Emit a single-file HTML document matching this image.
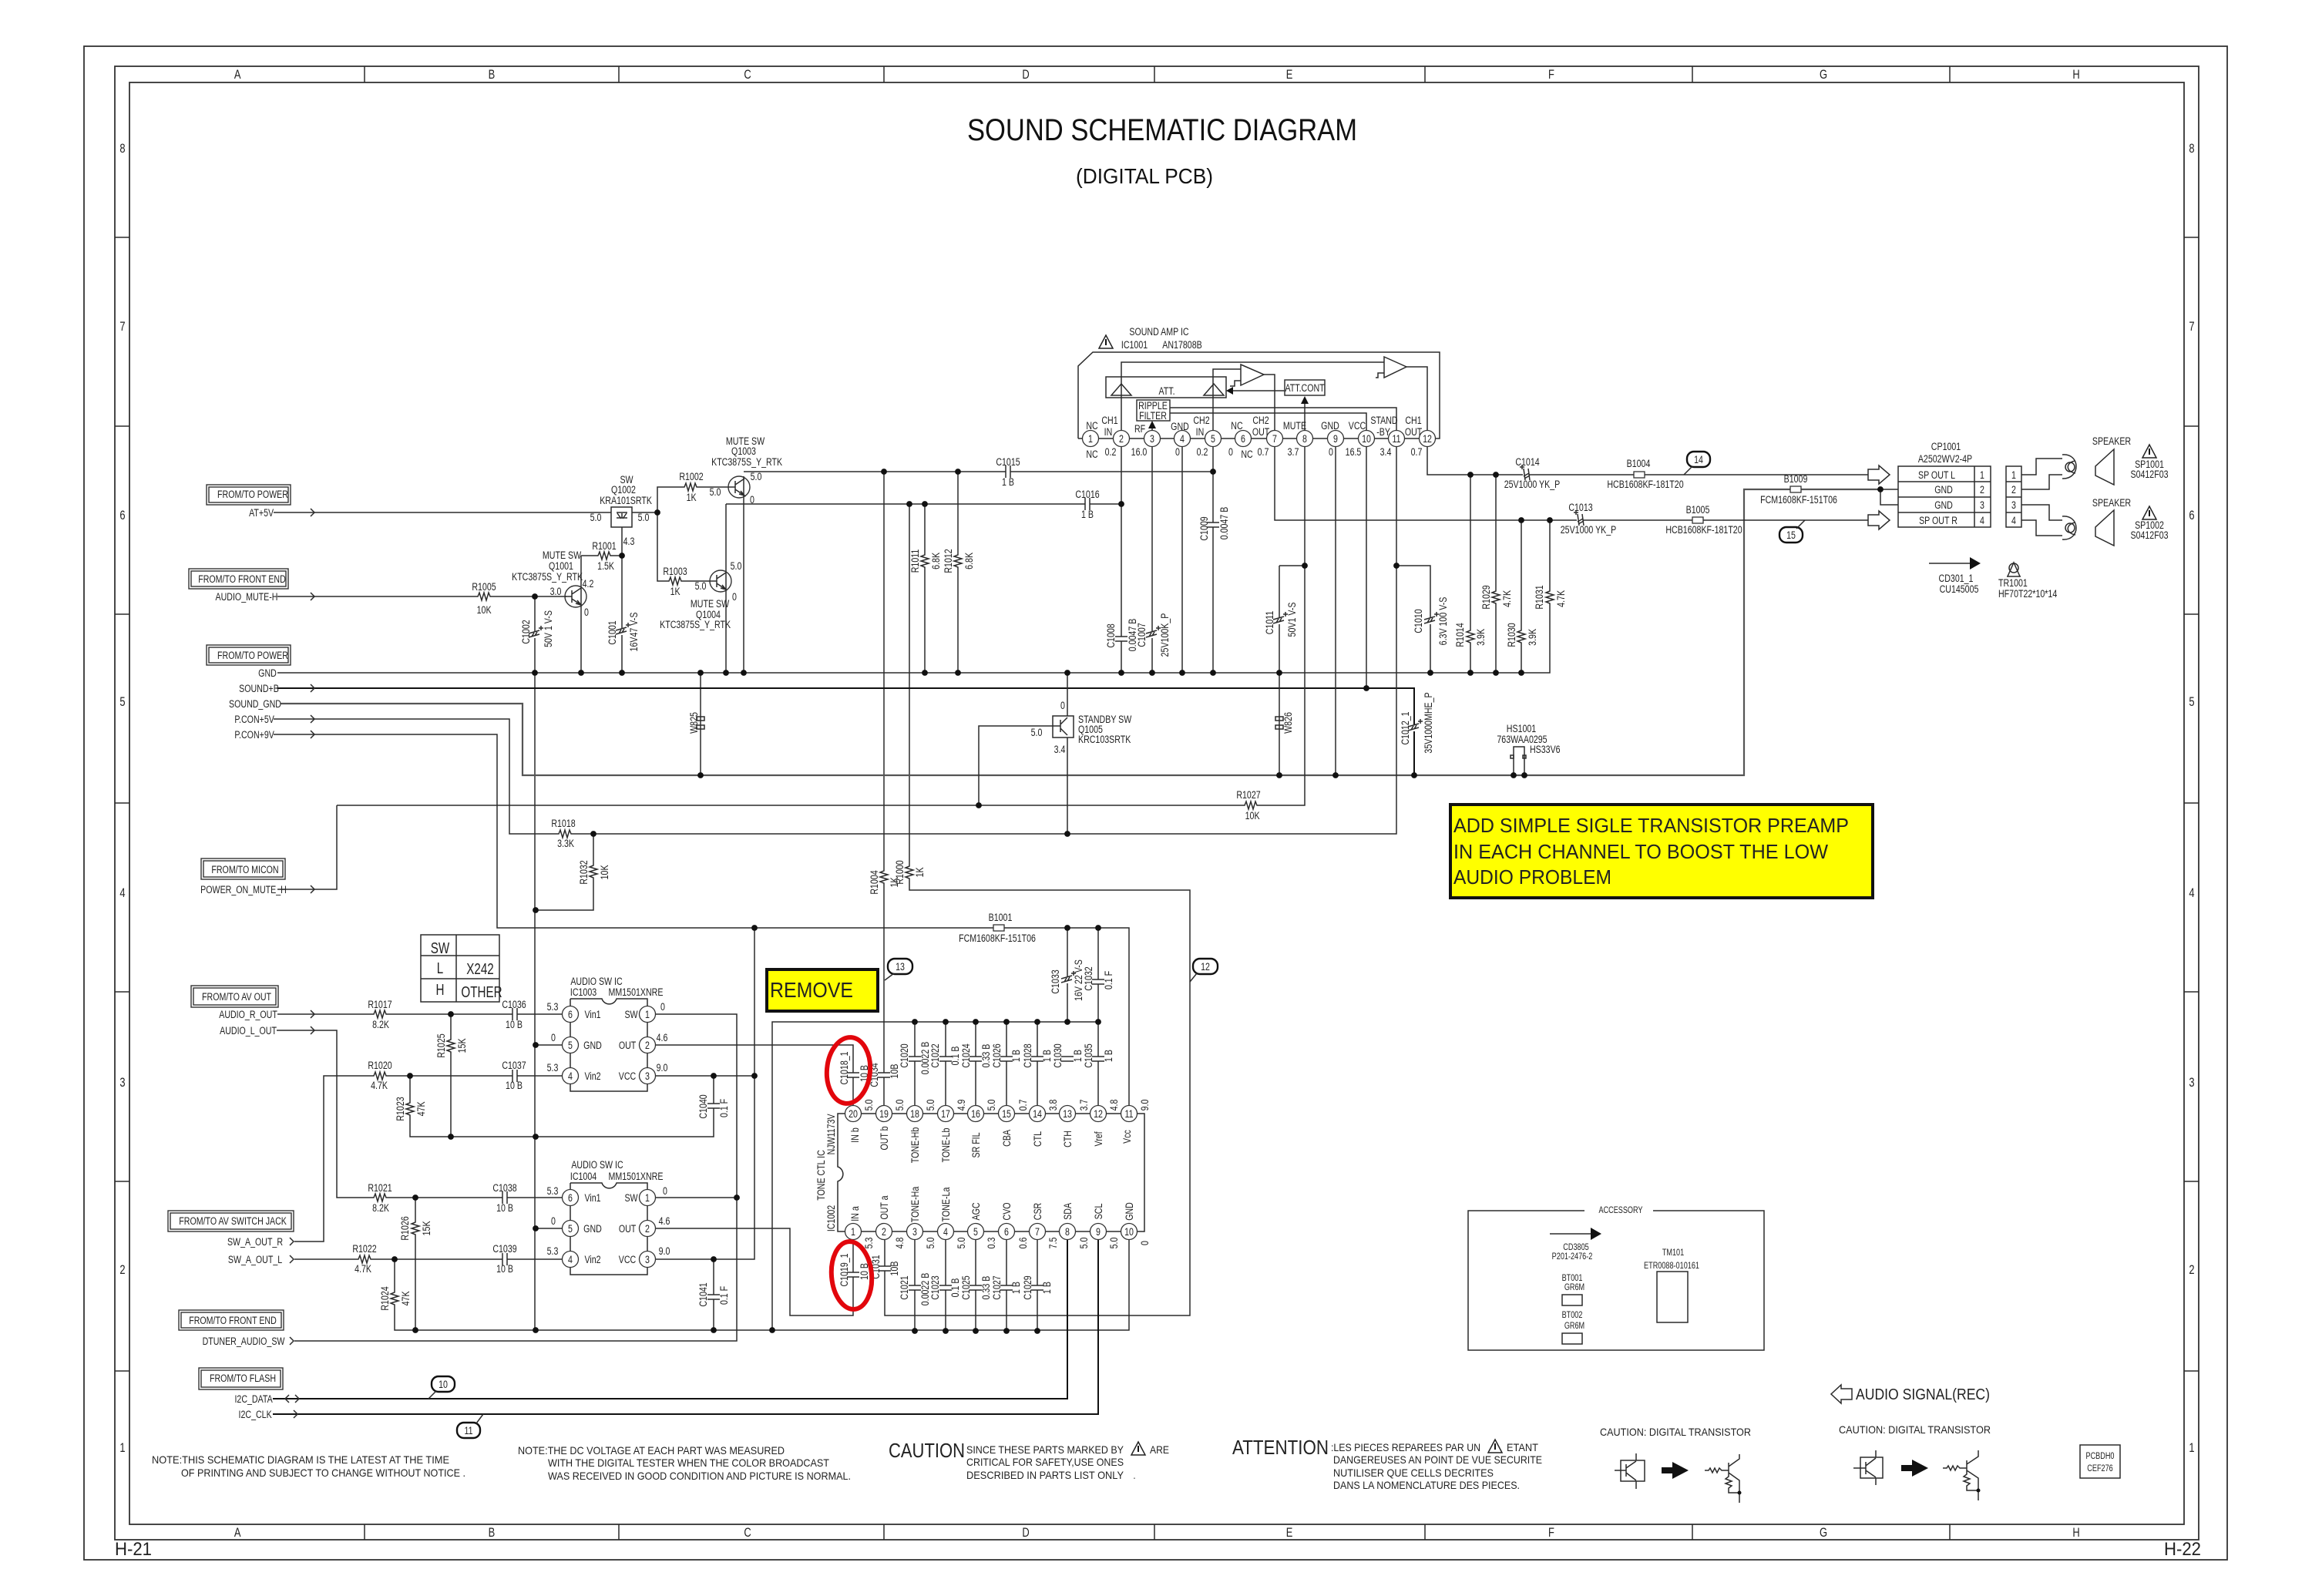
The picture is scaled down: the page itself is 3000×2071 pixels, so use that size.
<!DOCTYPE html>
<html><head><meta charset="utf-8"><title>Sound Schematic Diagram</title>
<style>
html,body{margin:0;padding:0;background:#fff}
svg{display:block}
text{font-family:"Liberation Sans",sans-serif;font-size:14px;fill:#222;text-anchor:middle;transform-box:fill-box;transform-origin:center;transform:scaleX(.76)}
text.l{text-anchor:start;transform-origin:left center}
text.n{text-anchor:start;transform:none}
text.s{font-size:12px}
text.f{font-size:17px}
text.t{font-size:20px}
.w{fill:none;stroke:#2b2b2b;stroke-width:1.5}
.g{fill:none;stroke:#555;stroke-width:2.2}
.k{fill:none;stroke:#111;stroke-width:2}
.fr{fill:none;stroke:#333;stroke-width:1.8}
.pin{fill:#fff;stroke:#333;stroke-width:1.3}
.tag{fill:#fff;stroke:#111;stroke-width:2.4}
</style></head><body>
<svg xmlns="http://www.w3.org/2000/svg" width="3000" height="2071" viewBox="0 0 3000 2071">
<defs>
<g id="d"><circle r="3.9" fill="#111"/></g>
<g id="rh"><rect x="-11" y="-5" width="22" height="10" fill="#fff"/><path class="w" d="M-11 0H-8l2-5 3 10 3-10 3 10 3-10 2 5H11"/></g>
<g id="rv"><rect x="-5" y="-11" width="10" height="22" fill="#fff"/><path class="w" d="M0-11V-8l-5 2 10 3-10 3 10 3-10 3 5 2V11"/></g>
<g id="ch"><rect x="-3" y="-8" width="6" height="16" fill="#fff"/><path class="w" d="M-3-8V8M3-8V8"/></g>
<g id="cv"><rect x="-8" y="-3" width="16" height="6" fill="#fff"/><path class="w" d="M-8-3H8M-8 3H8"/></g>
<g id="ev"><rect x="-8" y="-4" width="16" height="8" fill="#fff"/><path class="w" d="M-8-2L6-6M-8 3L6-1M-4 2L-1-3M0 1L3-4M8-12V-6M5-9H11"/></g>
<g id="eh"><rect x="-4" y="-8" width="8" height="16" fill="#fff"/><path class="w" d="M-3-8L-1 7M3-8L5 7M-3 2L4-2M-2 5L5 1M-8-10H-2M-5-13V-7"/></g>
<g id="q"><circle r="14" fill="none" stroke="#333" stroke-width="1.4"/><path class="w" d="M-14 0H-5M-5-8V8M-5-3L7-11M-5 3L7 11M2 5L7 11L0 9"/></g>
<g id="ar"><path class="w" d="M-5-5L4 0L-5 5M-8 0H4"/></g>
<g id="p"><circle r="10.5" class="pin"/></g>
<g id="wt"><path fill="#fff" stroke="#222" stroke-width="1.5" d="M0-9L9 8H-9Z"/><path stroke="#111" stroke-width="2" d="M0-4V4"/></g>
<g id="fa"><path class="w" fill="#fff" d="M0-7H14V-12L28 0L14 12V7H0Z"/></g>
<g id="j"><path class="w" fill="#fff" d="M-5-8H5V-3H-5ZM-5 3H5V8H-5Z"/></g>
</defs>

<!-- frame -->
<rect x="109" y="60" width="2781" height="1964" class="fr"/>
<rect x="149" y="86" width="2704" height="1912" class="fr"/>
<rect x="168" y="107" width="2666" height="1871" class="fr"/>
<path class="w" d="M473 86V107M803 86V107M1147 86V107M1498 86V107M1849 86V107M2196 86V107M2530 86V107M473 1978V1998M803 1978V1998M1147 1978V1998M1498 1978V1998M1849 1978V1998M2196 1978V1998M2530 1978V1998M149 308H168M149 553H168M149 797H168M149 1042H168M149 1287H168M149 1533H168M149 1779H168M2834 308H2853M2834 553H2853M2834 797H2853M2834 1042H2853M2834 1287H2853M2834 1533H2853M2834 1779H2853"/>
<text class="f" x="308" y="102">A</text><text class="f" x="638" y="102">B</text><text class="f" x="970" y="102">C</text><text class="f" x="1331" y="102">D</text><text class="f" x="1673" y="102">E</text><text class="f" x="2013" y="102">F</text><text class="f" x="2366" y="102">G</text><text class="f" x="2694" y="102">H</text>
<text class="f" x="308" y="1994">A</text><text class="f" x="638" y="1994">B</text><text class="f" x="970" y="1994">C</text><text class="f" x="1331" y="1994">D</text><text class="f" x="1673" y="1994">E</text><text class="f" x="2013" y="1994">F</text><text class="f" x="2366" y="1994">G</text><text class="f" x="2694" y="1994">H</text>
<text class="f" x="159" y="198">8</text><text class="f" x="159" y="429">7</text><text class="f" x="159" y="674">6</text><text class="f" x="159" y="916">5</text><text class="f" x="159" y="1164">4</text><text class="f" x="159" y="1410">3</text><text class="f" x="159" y="1653">2</text><text class="f" x="159" y="1884">1</text>
<text class="f" x="2844" y="198">8</text><text class="f" x="2844" y="429">7</text><text class="f" x="2844" y="674">6</text><text class="f" x="2844" y="916">5</text><text class="f" x="2844" y="1164">4</text><text class="f" x="2844" y="1410">3</text><text class="f" x="2844" y="1653">2</text><text class="f" x="2844" y="1884">1</text>
<text class="n" x="149" y="2018" style="font-size:24px" textLength="48" lengthAdjust="spacingAndGlyphs">H-21</text>
<text class="n" x="2808" y="2018" style="font-size:24px" textLength="48" lengthAdjust="spacingAndGlyphs">H-22</text>

<!-- title -->
<text class="n" x="1255" y="182" style="font-size:40px;fill:#111" textLength="506" lengthAdjust="spacingAndGlyphs">SOUND SCHEMATIC DIAGRAM</text>
<text class="n" x="1396" y="238" style="font-size:28px;fill:#111" textLength="178" lengthAdjust="spacingAndGlyphs">(DIGITAL PCB)</text>

<!-- wires -->
<path class="w" d="M355 665H793M820 665H853V632H945M853 665V754H921M807 684V873M754 721H807M754 721V873M360 774H735M694 774V1726M965 618V873M965 612H1574M942 654V873M942 654H1455M1147 612V1434M1180 654V1155H1544V1707H1148V1608M1200 654V873M1243 612V873M909 873V1006"/>
<path class="w" d="M360 873H2011V675"/>
<path class="k" d="M360 893H1835V1006"/>
<path class="g" d="M364 913H678V1006H2263V635H2440"/>
<path class="w" d="M2440 635H2463M2440 635V655H2463"/>
<path class="w" d="M355 933H661V1082H1812V580M355 953H645V1204H1465V1434M437 1045H1693V580M437 1045V1154H360"/>
<path class="w" d="M1455 580V873M1495 580V873M1534 580V873M1574 580V873M1574 558V479H1610M1455 558V470H1796M1654 558V486H1640M1654 580V675H2424M1852 558V476H1825M1852 580V616H2424M1733 580V1006M1773 558V536H1518M1773 580V893M1812 558V529H1518M1660 734H1693M1660 734V1006M1812 734H1856V873M1908 616V873M1941 616V873M1974 675V873M1964 1006V969H1978V1006M1366 942H1270V1045M1385 873V929M1385 957V1082"/>
<path class="w" d="M1399 569H1868V457H1418L1399 475V569"/>
<!-- lower wires -->
<path class="w" d="M360 1316H730M850 1316H956V1740H382M850 1356H1107V1434M850 1396H979M979 1204V1634H850M730 1356H695M730 1396H420V1611H382M585 1316V1475M532 1396V1475H926V1396M359 1337H437V1554H730M539 1554V1726M730 1594H695M730 1634H382M512 1634V1726H1465V1608M926 1634V1726M850 1554H956M850 1594H1025V1707H1107V1608M1002 1726V1326H1425V1434M1187 1326V1434M1227 1326V1434M1266 1326V1434M1306 1326V1434M1346 1326V1434M1385 1204V1326M1425 1204V1326M1187 1608V1727M1227 1608V1727M1266 1608V1727M1306 1608V1727M1346 1608V1727"/>
<path class="k" d="M1385 1608V1815H354M1425 1608V1835H354"/>
<path class="w" d="M770 1082V1181H695"/>

<!-- IC bodies -->
<path class="w" d="M740 1296V1416H840V1296H800A10 10 0 0 1 781 1296H740M740 1535V1654H840V1535H800A10 10 0 0 1 781 1535H740"/>
<path class="w" d="M1107 1445H1087V1514A10 10 0 0 1 1087 1533V1598H1485V1445H1107"/>

<!-- IC1001 internals -->
<rect x="1435" y="489" width="156" height="27" class="w"/>
<path class="w" fill="#fff" d="M1442 513L1455 498L1468 513ZM1562 513L1575 498L1588 513Z"/>
<path class="w" d="M1610 473L1640 486L1610 500ZM1796 463L1825 476L1796 490ZM1610 494H1602V501H1596M1796 484H1788V490H1785M1667 507H1600"/>
<path fill="#111" d="M1591 507L1600 502V512ZM1693 514L1688 524H1698ZM1495 546L1490 556H1500Z"/>
<path class="w" d="M1693 524V558M1495 556V558"/>
<rect x="1667" y="493" width="52" height="20" fill="#fff" stroke="#333" stroke-width="1.5"/>
<rect x="1475" y="519" width="43" height="27" fill="#fff" stroke="#333" stroke-width="1.5"/>

<!-- right connector -->
<rect x="2463" y="605" width="120" height="79" class="w"/>
<path class="w" d="M2463 625H2583M2463 645H2583M2463 665H2583M2562 605V684"/>
<rect x="2603" y="605" width="20" height="79" class="w"/>
<path class="w" d="M2623 616H2642V595H2676M2623 635H2659V616H2676M2623 655H2659V675H2676M2623 675H2642V695H2676M2603 625H2623M2603 645H2623M2603 665H2623"/>
<path class="w" d="M2676 590C2700 588 2700 622 2676 621M2693 598C2680 600 2680 612 2693 614M2676 670C2700 668 2700 702 2676 700M2693 678C2680 680 2680 692 2693 694"/>
<circle cx="2686" cy="606" r="6" class="w"/><circle cx="2686" cy="685" r="6" class="w"/>
<path class="w" d="M2743 583L2719 605V617L2743 629ZM2743 662L2719 684V696L2743 708Z"/>
<use href="#wt" x="2789" y="586"/><use href="#wt" x="2789" y="666"/>
<use href="#fa" x="2424" y="616"/><use href="#fa" x="2424" y="675"/>
<path class="w" d="M2503 731H2556"/><path fill="#111" d="M2556 723L2570 731L2556 739Z"/>
<circle cx="2613" cy="737" r="6" class="w"/><path class="w" d="M2605 748L2613 730L2621 748M2604 748H2622"/>

<!-- components -->
<rect x="793" y="658" width="27" height="26" class="w" fill="#fff"/>
<path class="w" d="M800 665H814M807 666V672M800 672H814M801 666L806 673M813 666L808 673"/>
<use href="#q" x="747" y="774"/><use href="#q" x="959" y="632"/><use href="#q" x="935" y="754"/>
<rect x="1366" y="929" width="27" height="28" class="w" fill="#fff"/>
<path class="w" d="M1366 942H1376M1376 934V950M1376 940L1385 931M1376 945L1385 954"/>
<use href="#rh" x="896" y="632"/><use href="#rh" x="876" y="754"/><use href="#rh" x="784" y="721"/><use href="#rh" x="628" y="774"/><use href="#rh" x="733" y="1082"/><use href="#rh" x="1623" y="1045"/>
<use href="#rh" x="493" y="1316"/><use href="#rh" x="493" y="1396"/><use href="#rh" x="493" y="1554"/><use href="#rh" x="473" y="1634"/>
<use href="#rv" x="770" y="1131"/><use href="#rv" x="1200" y="728"/><use href="#rv" x="1243" y="728"/><use href="#rv" x="1908" y="826"/><use href="#rv" x="1941" y="775"/><use href="#rv" x="1974" y="826"/><use href="#rv" x="2011" y="775"/>
<use href="#rv" x="585" y="1357"/><use href="#rv" x="532" y="1439"/><use href="#rv" x="539" y="1594"/><use href="#rv" x="512" y="1685"/><use href="#rv" x="1147" y="1138"/><use href="#rv" x="1180" y="1132"/>
<use href="#ch" x="1308" y="612"/><use href="#ch" x="1411" y="654"/><use href="#ch" x="668" y="1316"/><use href="#ch" x="668" y="1396"/><use href="#ch" x="655" y="1554"/><use href="#ch" x="655" y="1634"/>
<use href="#cv" x="1455" y="829"/><use href="#cv" x="1574" y="681"/><use href="#cv" x="926" y="1435"/><use href="#cv" x="926" y="1683"/><use href="#cv" x="1425" y="1274"/><use href="#cv" x="1107" y="1395"/><use href="#cv" x="1147" y="1395"/><use href="#cv" x="1187" y="1374"/><use href="#cv" x="1227" y="1374"/><use href="#cv" x="1266" y="1374"/><use href="#cv" x="1306" y="1374"/><use href="#cv" x="1346" y="1374"/><use href="#cv" x="1385" y="1374"/><use href="#cv" x="1425" y="1374"/>
<use href="#cv" x="1107" y="1654"/><use href="#cv" x="1148" y="1646"/><use href="#cv" x="1187" y="1671"/><use href="#cv" x="1227" y="1671"/><use href="#cv" x="1266" y="1671"/><use href="#cv" x="1306" y="1671"/><use href="#cv" x="1346" y="1671"/>
<use href="#ev" x="694" y="824"/><use href="#ev" x="807" y="820"/><use href="#ev" x="1495" y="824"/><use href="#ev" x="1660" y="806"/><use href="#ev" x="1856" y="806"/><use href="#ev" x="1835" y="945"/><use href="#ev" x="1385" y="1272"/>
<use href="#eh" x="1980" y="616"/><use href="#eh" x="2050" y="675"/>
<use href="#j" x="909" y="938"/><use href="#j" x="1660" y="938"/>
<path class="w" d="M1960 980h4v4h-4zM1976 980h4v4h-4z"/>
<g fill="#fff" stroke="#333" stroke-width="1.3"><rect x="2120" y="612" width="14" height="8"/><rect x="2196" y="671" width="14" height="8"/><rect x="2323" y="631" width="14" height="8"/><rect x="1289" y="1200" width="14" height="8"/></g>
<path class="w" d="M403 660l5 5-5 5M403 769l5 5-5 5M403 888l5 5-5 5M403 928l5 5-5 5M403 948l5 5-5 5M403 1149l5 5-5 5M403 1311l5 5-5 5M403 1332l5 5-5 5M376 1606l5 5-5 5M376 1629l5 5-5 5M376 1735l5 5-5 5M383 1810l5 5-5 5M375 1810l-5 5 5 5M381 1830l5 5-5 5"/>

<!-- pins IC1001 -->
<use href="#p" x="1415" y="569"/><use href="#p" x="1455" y="569"/><use href="#p" x="1495" y="569"/><use href="#p" x="1534" y="569"/><use href="#p" x="1574" y="569"/><use href="#p" x="1613" y="569"/><use href="#p" x="1654" y="569"/><use href="#p" x="1693" y="569"/><use href="#p" x="1733" y="569"/><use href="#p" x="1773" y="569"/><use href="#p" x="1812" y="569"/><use href="#p" x="1852" y="569"/>
<!-- pins IC1002 -->
<use href="#p" x="1107" y="1445"/><use href="#p" x="1147" y="1445"/><use href="#p" x="1187" y="1445"/><use href="#p" x="1227" y="1445"/><use href="#p" x="1266" y="1445"/><use href="#p" x="1306" y="1445"/><use href="#p" x="1346" y="1445"/><use href="#p" x="1385" y="1445"/><use href="#p" x="1425" y="1445"/><use href="#p" x="1465" y="1445"/>
<use href="#p" x="1107" y="1598"/><use href="#p" x="1147" y="1598"/><use href="#p" x="1187" y="1598"/><use href="#p" x="1227" y="1598"/><use href="#p" x="1266" y="1598"/><use href="#p" x="1306" y="1598"/><use href="#p" x="1346" y="1598"/><use href="#p" x="1385" y="1598"/><use href="#p" x="1425" y="1598"/><use href="#p" x="1465" y="1598"/>
<!-- pins IC1003/4 -->
<use href="#p" x="740" y="1316"/><use href="#p" x="740" y="1356"/><use href="#p" x="740" y="1396"/><use href="#p" x="840" y="1316"/><use href="#p" x="840" y="1356"/><use href="#p" x="840" y="1396"/>
<use href="#p" x="740" y="1554"/><use href="#p" x="740" y="1594"/><use href="#p" x="740" y="1634"/><use href="#p" x="840" y="1554"/><use href="#p" x="840" y="1594"/><use href="#p" x="840" y="1634"/>

<!-- dots -->
<use href="#d" x="853" y="665"/><use href="#d" x="807" y="721"/><use href="#d" x="694" y="774"/>
<use href="#d" x="694" y="873"/><use href="#d" x="754" y="873"/><use href="#d" x="807" y="873"/><use href="#d" x="909" y="873"/><use href="#d" x="942" y="873"/><use href="#d" x="965" y="873"/><use href="#d" x="1200" y="873"/><use href="#d" x="1243" y="873"/><use href="#d" x="1385" y="873"/><use href="#d" x="1455" y="873"/><use href="#d" x="1495" y="873"/><use href="#d" x="1534" y="873"/><use href="#d" x="1574" y="873"/><use href="#d" x="1660" y="873"/><use href="#d" x="1856" y="873"/><use href="#d" x="1908" y="873"/><use href="#d" x="1941" y="873"/><use href="#d" x="1974" y="873"/>
<use href="#d" x="1147" y="612"/><use href="#d" x="1243" y="612"/><use href="#d" x="1574" y="612"/><use href="#d" x="1180" y="654"/><use href="#d" x="1200" y="654"/><use href="#d" x="1455" y="654"/><use href="#d" x="1693" y="734"/><use href="#d" x="1812" y="734"/><use href="#d" x="1908" y="616"/><use href="#d" x="1941" y="616"/><use href="#d" x="1974" y="675"/><use href="#d" x="2011" y="675"/><use href="#d" x="1773" y="893"/>
<use href="#d" x="909" y="1006"/><use href="#d" x="1660" y="1006"/><use href="#d" x="1733" y="1006"/><use href="#d" x="1835" y="1006"/><use href="#d" x="1964" y="1006"/><use href="#d" x="1978" y="1006"/><use href="#d" x="1270" y="1045"/><use href="#d" x="770" y="1082"/><use href="#d" x="1385" y="1082"/><use href="#d" x="2440" y="635"/>
<use href="#d" x="695" y="1181"/><use href="#d" x="979" y="1204"/><use href="#d" x="1385" y="1204"/><use href="#d" x="1425" y="1204"/><use href="#d" x="585" y="1316"/><use href="#d" x="695" y="1356"/><use href="#d" x="532" y="1396"/><use href="#d" x="926" y="1396"/><use href="#d" x="979" y="1396"/><use href="#d" x="585" y="1475"/><use href="#d" x="695" y="1475"/><use href="#d" x="539" y="1554"/><use href="#d" x="956" y="1554"/><use href="#d" x="695" y="1594"/><use href="#d" x="512" y="1634"/><use href="#d" x="926" y="1634"/><use href="#d" x="539" y="1726"/><use href="#d" x="695" y="1726"/><use href="#d" x="926" y="1726"/><use href="#d" x="1002" y="1726"/>
<use href="#d" x="1187" y="1326"/><use href="#d" x="1227" y="1326"/><use href="#d" x="1266" y="1326"/><use href="#d" x="1306" y="1326"/><use href="#d" x="1346" y="1326"/><use href="#d" x="1385" y="1326"/><use href="#d" x="1425" y="1326"/>
<use href="#d" x="1187" y="1727"/><use href="#d" x="1227" y="1727"/><use href="#d" x="1266" y="1727"/><use href="#d" x="1306" y="1727"/><use href="#d" x="1346" y="1727"/>

<!-- label boxes -->
<g fill="none" stroke="#333" stroke-width="1.4">
<rect x="268" y="629" width="109" height="26"/><rect x="271" y="632" width="103" height="20"/>
<rect x="245" y="738" width="129" height="26"/><rect x="248" y="741" width="123" height="20"/>
<rect x="268" y="837" width="109" height="26"/><rect x="271" y="840" width="103" height="20"/>
<rect x="261" y="1114" width="109" height="27"/><rect x="264" y="1117" width="103" height="21"/>
<rect x="248" y="1279" width="113" height="28"/><rect x="251" y="1282" width="107" height="22"/>
<rect x="218" y="1571" width="163" height="27"/><rect x="221" y="1574" width="157" height="21"/>
<rect x="232" y="1700" width="136" height="26"/><rect x="235" y="1703" width="130" height="20"/>
<rect x="258" y="1775" width="109" height="28"/><rect x="261" y="1778" width="103" height="22"/>
</g>

<!-- SW table -->
<rect x="546" y="1213" width="102" height="87" class="w"/>
<path class="w" d="M546 1240H648M546 1270H648M592 1213V1300"/>
<text class="t" x="571" y="1237">SW</text><text class="t" x="571" y="1263">L</text><text class="t" x="571" y="1291">H</text><text class="t" x="623" y="1264">X242</text><text class="t" x="625" y="1294">OTHER</text>

<!-- tags -->
<rect x="1152" y="1244" width="32" height="20" rx="9" class="tag"/><path class="w" d="M1148 1272L1160 1263"/><text x="1168" y="1259">13</text>
<rect x="1548" y="1244" width="32" height="20" rx="9" class="tag"/><path class="w" d="M1544 1274L1553 1263"/><text x="1564" y="1259">12</text>
<rect x="2189" y="586" width="30" height="20" rx="9" class="tag"/><path class="w" d="M2185 616L2196 605"/><text x="2204" y="601">14</text>
<rect x="2309" y="684" width="30" height="20" rx="9" class="tag"/><path class="w" d="M2342 675L2331 686"/><text x="2324" y="699">15</text>
<rect x="560" y="1786" width="30" height="20" rx="9" class="tag"/><path class="w" d="M556 1815L566 1805"/><text x="575" y="1801">10</text>
<rect x="593" y="1846" width="30" height="20" rx="9" class="tag"/><path class="w" d="M627 1835L618 1847"/><text x="608" y="1861">11</text>

<!-- labels left -->
<text x="328" y="646">FROM/TO POWER</text><text x="339" y="670">AT+5V</text>
<text x="314" y="756">FROM/TO FRONT END</text><text x="320" y="779">AUDIO_MUTE-H</text>
<text x="328" y="855">FROM/TO POWER</text><text x="347" y="878">GND</text><text x="336" y="898">SOUND+B</text><text x="331" y="918">SOUND_GND</text><text x="330" y="938">P.CON+5V</text><text x="330" y="958">P.CON+9V</text>
<text x="318" y="1133">FROM/TO MICON</text><text x="316" y="1159">POWER_ON_MUTE_H</text>
<text x="307" y="1298">FROM/TO AV OUT</text><text x="322" y="1321">AUDIO_R_OUT</text><text x="322" y="1342">AUDIO_L_OUT</text>
<text x="302" y="1589">FROM/TO AV SWITCH JACK</text><text x="331" y="1616">SW_A_OUT_R</text><text x="331" y="1639">SW_A_OUT_L</text>
<text x="302" y="1718">FROM/TO FRONT END</text><text x="316" y="1745">DTUNER_AUDIO_SW</text>
<text x="315" y="1793">FROM/TO FLASH</text><text x="329" y="1820">I2C_DATA</text><text x="331" y="1840">I2C_CLK</text>

<!-- labels upper schematic -->
<text x="813" y="627">SW</text><text x="809" y="640">Q1002</text><text x="812" y="654">KRA101SRTK</text>
<text x="773" y="676">5.0</text><text x="835" y="676">5.0</text><text x="816" y="707">4.3</text>
<text x="784" y="713">R1001</text><text x="786" y="739">1.5K</text>
<text x="729" y="725">MUTE SW</text><text x="728" y="739">Q1001</text><text x="710" y="753">KTC3875S_Y_RTK</text>
<text x="763" y="762">4.2</text><text x="721" y="772">3.0</text><text x="761" y="799">0</text>
<text x="628" y="766">R1005</text><text x="628" y="796">10K</text>
<text x="967" y="577">MUTE SW</text><text x="965" y="590">Q1003</text><text x="969" y="604">KTC3875S_Y_RTK</text>
<text x="897" y="623">R1002</text><text x="897" y="650">1K</text><text x="981" y="623">5.0</text><text x="928" y="643">5.0</text><text x="976" y="653">0</text>
<text x="876" y="746">R1003</text><text x="876" y="772">1K</text><text x="955" y="739">5.0</text><text x="909" y="765">5.0</text><text x="953" y="779">0</text>
<text x="921" y="788">MUTE SW</text><text x="919" y="802">Q1004</text><text x="902" y="815">KTC3875S_Y_RTK</text>
<text x="731" y="1073">R1018</text><text x="734" y="1099">3.3K</text>
<text x="1308" y="604">C1015</text><text x="1308" y="630">1 B</text><text x="1411" y="646">C1016</text><text x="1411" y="672">1 B</text>
<text x="1399" y="938" class="l">STANDBY SW</text><text x="1399" y="951" class="l">Q1005</text><text x="1399" y="964" class="l">KRC103SRTK</text>
<text x="1379" y="920">0</text><text x="1345" y="955">5.0</text><text x="1375" y="977">3.4</text>
<text x="1620" y="1036">R1027</text><text x="1625" y="1063">10K</text>
<text x="1982" y="604">C1014</text><text x="1988" y="633">25V1000 YK_P</text><text x="2051" y="663">C1013</text><text x="2061" y="692">25V1000 YK_P</text>
<text x="1974" y="950">HS1001</text><text x="1975" y="964">763WAA0295</text><text x="1985" y="977" class="l">HS33V6</text>

<!-- IC1001 text -->
<text x="1504" y="435">SOUND AMP IC</text><text x="1472" y="452">IC1001</text><text x="1534" y="452">AN17808B</text><use href="#wt" x="1435" y="444"/>
<text x="1514" y="512">ATT.</text><text x="1693" y="508">ATT.CONT</text><text x="1496" y="531">RIPPLE</text><text x="1496" y="544">FILTER</text>
<text x="1417" y="557">NC</text><text x="1440" y="550">CH1</text><text x="1438" y="565">IN</text><text x="1479" y="561">RF</text><text x="1531" y="558">GND</text><text x="1559" y="550">CH2</text><text x="1557" y="565">IN</text><text x="1605" y="557">NC</text><text x="1636" y="550">CH2</text><text x="1636" y="565">OUT</text><text x="1680" y="557">MUTE</text><text x="1726" y="557">GND</text><text x="1761" y="557">VCC</text><text x="1796" y="550">STAND</text><text x="1795" y="565">-BY</text><text x="1834" y="550">CH1</text><text x="1834" y="565">OUT</text>
<text x="1415" y="574">1</text><text x="1455" y="574">2</text><text x="1495" y="574">3</text><text x="1534" y="574">4</text><text x="1574" y="574">5</text><text x="1613" y="574">6</text><text x="1654" y="574">7</text><text x="1693" y="574">8</text><text x="1733" y="574">9</text><text x="1773" y="574">10</text><text x="1812" y="574">11</text><text x="1852" y="574">12</text>
<text x="1417" y="594">NC</text><text x="1441" y="591">0.2</text><text x="1478" y="591">16.0</text><text x="1528" y="591">0</text><text x="1560" y="591">0.2</text><text x="1597" y="591">0</text><text x="1618" y="594">NC</text><text x="1639" y="591">0.7</text><text x="1678" y="591">3.7</text><text x="1727" y="591">0</text><text x="1756" y="591">16.5</text><text x="1798" y="591">3.4</text><text x="1838" y="591">0.7</text>

<!-- right -->
<text x="2126" y="606">B1004</text><text x="2135" y="633">HCB1608KF-181T20</text><text x="2203" y="666">B1005</text><text x="2211" y="692">HCB1608KF-181T20</text><text x="2330" y="626">B1009</text><text x="2334" y="653">FCM1608KF-151T06</text>
<text x="2525" y="584">CP1001</text><text x="2524" y="600">A2502WV2-4P</text>
<text x="2513" y="621">SP OUT L</text><text x="2522" y="640">GND</text><text x="2522" y="660">GND</text><text x="2515" y="680">SP OUT R</text>
<text x="2572" y="621">1</text><text x="2572" y="640">2</text><text x="2572" y="660">3</text><text x="2572" y="680">4</text><text x="2613" y="621">1</text><text x="2613" y="640">2</text><text x="2613" y="660">3</text><text x="2613" y="680">4</text>
<text x="2740" y="577">SPEAKER</text><text x="2740" y="657">SPEAKER</text><text x="2789" y="607">SP1001</text><text x="2789" y="620">S0412F03</text><text x="2789" y="686">SP1002</text><text x="2789" y="699">S0412F03</text>
<text x="2538" y="755">CD301_1</text><text x="2542" y="769">CU145005</text><text x="2593" y="761" class="l">TR1001</text><text x="2593" y="775" class="l">HF70T22*10*14</text>

<!-- lower labels -->
<text x="493" y="1308">R1017</text><text x="494" y="1334">8.2K</text><text x="667" y="1308">C1036</text><text x="667" y="1334">10   B</text>
<text x="493" y="1387">R1020</text><text x="492" y="1413">4.7K</text><text x="667" y="1387">C1037</text><text x="667" y="1413">10   B</text>
<text x="717" y="1311">5.3</text><text x="718" y="1351">0</text><text x="717" y="1390">5.3</text><text x="769" y="1321">Vin1</text><text x="769" y="1361">GND</text><text x="769" y="1401">Vin2</text><text x="819" y="1321">SW</text><text x="814" y="1361">OUT</text><text x="814" y="1401">VCC</text><text x="860" y="1311">0</text><text x="859" y="1351">4.6</text><text x="859" y="1390">9.0</text>
<text x="774" y="1278">AUDIO SW IC</text><text x="757" y="1292">IC1003</text><text x="825" y="1292">MM1501XNRE</text>
<text x="740" y="1321">6</text><text x="740" y="1361">5</text><text x="740" y="1401">4</text><text x="840" y="1321">1</text><text x="840" y="1361">2</text><text x="840" y="1401">3</text>
<text x="775" y="1516">AUDIO SW IC</text><text x="757" y="1531">IC1004</text><text x="825" y="1531">MM1501XNRE</text>
<text x="493" y="1546">R1021</text><text x="494" y="1572">8.2K</text><text x="655" y="1546">C1038</text><text x="655" y="1572">10   B</text>
<text x="473" y="1625">R1022</text><text x="471" y="1651">4.7K</text><text x="655" y="1625">C1039</text><text x="655" y="1651">10   B</text>
<text x="717" y="1550">5.3</text><text x="718" y="1589">0</text><text x="717" y="1628">5.3</text><text x="769" y="1559">Vin1</text><text x="769" y="1599">GND</text><text x="769" y="1639">Vin2</text><text x="819" y="1559">SW</text><text x="814" y="1599">OUT</text><text x="814" y="1639">VCC</text><text x="863" y="1550">0</text><text x="862" y="1589">4.6</text><text x="862" y="1628">9.0</text>
<text x="740" y="1559">6</text><text x="740" y="1599">5</text><text x="740" y="1639">4</text><text x="840" y="1559">1</text><text x="840" y="1599">2</text><text x="840" y="1639">3</text>
<text x="1298" y="1195">B1001</text><text x="1294" y="1222">FCM1608KF-151T06</text>
<text x="1107" y="1450">20</text><text x="1147" y="1450">19</text><text x="1187" y="1450">18</text><text x="1227" y="1450">17</text><text x="1266" y="1450">16</text><text x="1306" y="1450">15</text><text x="1346" y="1450">14</text><text x="1385" y="1450">13</text><text x="1425" y="1450">12</text><text x="1465" y="1450">11</text>
<text x="1107" y="1603">1</text><text x="1147" y="1603">2</text><text x="1187" y="1603">3</text><text x="1227" y="1603">4</text><text x="1266" y="1603">5</text><text x="1306" y="1603">6</text><text x="1346" y="1603">7</text><text x="1385" y="1603">8</text><text x="1425" y="1603">9</text><text x="1465" y="1603">10</text>

<!-- rotated labels: x'=-y, y'=baseline x -->
<g transform="rotate(-90)">
<text x="-820" y="687">C1002</text><text x="-816" y="716">50V 1 V-S</text><text x="-821" y="799">C1001</text><text x="-820" y="827">16V47 V-S</text><text x="-938" y="905">W825</text>
<text x="-728" y="1192">R1011</text><text x="-728" y="1219">6.8K</text><text x="-728" y="1235">R1012</text><text x="-728" y="1262">6.8K</text>
<text x="-686" y="1567">C1009</text><text x="-679" y="1593">0.0047  B</text><text x="-825" y="1446">C1008</text><text x="-824" y="1474">0.0047  B</text><text x="-824" y="1486">C1007</text><text x="-824" y="1516">25V100K_P</text>
<text x="-808" y="1652">C1011</text><text x="-804" y="1681">50V1 V-S</text><text x="-806" y="1845">C1010</text><text x="-806" y="1877">6.3V 100 V-S</text>
<text x="-824" y="1899">R1014</text><text x="-827" y="1926">3.9K</text><text x="-775" y="1933">R1029</text><text x="-777" y="1960">4.7K</text><text x="-824" y="1966">R1030</text><text x="-827" y="1993">3.9K</text><text x="-775" y="2002">R1031</text><text x="-777" y="2030">4.7K</text>
<text x="-945" y="1828">C1012_1</text><text x="-938" y="1858">35V1000MHE_P</text><text x="-938" y="1676">W826</text>
<text x="-1132" y="762">R1032</text><text x="-1132" y="789">10K</text>
<text x="-1145" y="1139">R1004</text><text x="-1145" y="1165">1K</text><text x="-1132" y="1172">R1000</text><text x="-1132" y="1198">1K</text>
<text x="-1357" y="577">R1025</text><text x="-1357" y="604">15K</text><text x="-1439" y="524">R1023</text><text x="-1439" y="551">47K</text><text x="-1436" y="917">C1040</text><text x="-1438" y="944">0.1  F</text>
<text x="-1594" y="530">R1026</text><text x="-1594" y="558">15K</text><text x="-1685" y="504">R1024</text><text x="-1685" y="531">47K</text><text x="-1680" y="917">C1041</text><text x="-1681" y="944">0.1  F</text>
<text x="-1274" y="1374">C1033</text><text x="-1272" y="1404">16V 22 V-S</text><text x="-1270" y="1417">C1032</text><text x="-1272" y="1443">0.1  F</text>
<text x="-1395" y="1139">C1034</text><text x="-1390" y="1165">10B</text><text x="-1386" y="1100">C1018_1</text><text x="-1393" y="1126">10   B</text>
<text x="-1370" y="1178">C1020</text><text x="-1373" y="1205">0.0022  B</text><text x="-1370" y="1218">C1022</text><text x="-1370" y="1244">0.1  B</text><text x="-1370" y="1258">C1024</text><text x="-1370" y="1284">0.33  B</text><text x="-1370" y="1298">C1026</text><text x="-1370" y="1323">1  B</text><text x="-1370" y="1338">C1028</text><text x="-1370" y="1363">1  B</text><text x="-1370" y="1377">C1030</text><text x="-1370" y="1403">1  B</text><text x="-1370" y="1417">C1035</text><text x="-1370" y="1443">1  B</text>
<text x="-1434" y="1132">5.0</text><text x="-1434" y="1172">5.0</text><text x="-1434" y="1212">5.0</text><text x="-1434" y="1252">4.9</text><text x="-1434" y="1291">5.0</text><text x="-1434" y="1332">0.7</text><text x="-1434" y="1371">3.8</text><text x="-1434" y="1411">3.7</text><text x="-1434" y="1450">4.8</text><text x="-1434" y="1490">9.0</text>
<text x="-1473" y="1114">IN b</text><text x="-1477" y="1152">OUT b</text><text x="-1486" y="1192">TONE-Hb</text><text x="-1486" y="1232">TONE-Lb</text><text x="-1486" y="1271">SR FIL</text><text x="-1477" y="1311">CBA</text><text x="-1478" y="1351">CTL</text><text x="-1478" y="1390">CTH</text><text x="-1478" y="1430">Vref</text><text x="-1475" y="1467">Vcc</text>
<text x="-1575" y="1114">IN a</text><text x="-1567" y="1152">OUT a</text><text x="-1563" y="1192">TONE-Ha</text><text x="-1563" y="1232">TONE-La</text><text x="-1572" y="1271">AGC</text><text x="-1572" y="1311">CVO</text><text x="-1572" y="1351">CSR</text><text x="-1572" y="1390">SDA</text><text x="-1572" y="1430">SCL</text><text x="-1572" y="1470">GND</text>
<text x="-1613" y="1132">5.3</text><text x="-1613" y="1172">4.8</text><text x="-1613" y="1212">5.0</text><text x="-1613" y="1252">5.0</text><text x="-1613" y="1291">0.3</text><text x="-1613" y="1332">0.6</text><text x="-1613" y="1371">7.5</text><text x="-1613" y="1411">5.0</text><text x="-1613" y="1450">5.0</text><text x="-1613" y="1490">0</text>
<text x="-1525" y="1070">TONE CTL IC</text><text x="-1472" y="1083">NJW1173V</text><text x="-1581" y="1083">IC1002</text>
<text x="-1671" y="1178">C1021</text><text x="-1673" y="1205">0.0022  B</text><text x="-1671" y="1218">C1023</text><text x="-1671" y="1244">0.1  B</text><text x="-1671" y="1258">C1025</text><text x="-1671" y="1284">0.33  B</text><text x="-1671" y="1298">C1027</text><text x="-1671" y="1323">1  B</text><text x="-1671" y="1338">C1029</text><text x="-1671" y="1363">1  B</text>
<text x="-1644" y="1141">C1031</text><text x="-1646" y="1165">10B</text><text x="-1648" y="1100">C1019_1</text><text x="-1650" y="1126">10   B</text>
</g>

<!-- red ellipses -->
<ellipse cx="1101" cy="1389" rx="28" ry="43" fill="none" stroke="#e2060c" stroke-width="6" transform="rotate(5 1101 1389)"/>
<ellipse cx="1105" cy="1655" rx="26" ry="44" fill="none" stroke="#e2060c" stroke-width="6" transform="rotate(-5 1105 1655)"/>

<!-- yellow notes -->
<rect x="995" y="1258" width="144" height="54" fill="#ffff00" stroke="#111" stroke-width="4"/>
<text class="n" x="999" y="1294" style="font-size:28px" textLength="108" lengthAdjust="spacingAndGlyphs">REMOVE</text>
<rect x="1882" y="1044" width="548" height="121" fill="#ffff00" stroke="#111" stroke-width="4"/>
<text class="n" x="1886" y="1080" style="font-size:26px" textLength="513" lengthAdjust="spacingAndGlyphs">ADD SIMPLE SIGLE TRANSISTOR PREAMP</text>
<text class="n" x="1886" y="1114" style="font-size:26px" textLength="486" lengthAdjust="spacingAndGlyphs">IN EACH CHANNEL TO BOOST THE LOW</text>
<text class="n" x="1886" y="1147" style="font-size:26px" textLength="205" lengthAdjust="spacingAndGlyphs">AUDIO PROBLEM</text>

<!-- bottom notes -->
<text class="n" x="197" y="1899" textLength="386" lengthAdjust="spacingAndGlyphs">NOTE:THIS SCHEMATIC DIAGRAM IS THE LATEST AT THE TIME</text>
<text class="n" x="235" y="1916" textLength="369" lengthAdjust="spacingAndGlyphs">OF PRINTING AND SUBJECT TO CHANGE WITHOUT NOTICE .</text>
<text class="n" x="672" y="1887" textLength="346" lengthAdjust="spacingAndGlyphs">NOTE:THE DC VOLTAGE AT EACH PART WAS MEASURED</text>
<text class="n" x="711" y="1903" textLength="365" lengthAdjust="spacingAndGlyphs">WITH THE DIGITAL TESTER WHEN THE COLOR BROADCAST</text>
<text class="n" x="711" y="1920" textLength="393" lengthAdjust="spacingAndGlyphs">WAS RECEIVED IN GOOD CONDITION AND PICTURE IS NORMAL.</text>
<text class="n" x="1153" y="1891" style="font-size:26px" textLength="99" lengthAdjust="spacingAndGlyphs">CAUTION</text>
<text class="n" x="1254" y="1886" textLength="204" lengthAdjust="spacingAndGlyphs">SINCE THESE PARTS MARKED BY</text>
<use href="#wt" x="1477" y="1880"/><text class="n" x="1492" y="1886" textLength="25" lengthAdjust="spacingAndGlyphs">ARE</text>
<text class="n" x="1254" y="1902" textLength="204" lengthAdjust="spacingAndGlyphs">CRITICAL FOR SAFETY,USE ONES</text>
<text class="n" x="1254" y="1919" textLength="204" lengthAdjust="spacingAndGlyphs">DESCRIBED IN PARTS LIST ONLY</text>
<text x="1472" y="1919">.</text>
<text class="n" x="1599" y="1887" style="font-size:26px" textLength="125" lengthAdjust="spacingAndGlyphs">ATTENTION</text>
<text class="n" x="1727" y="1883" textLength="194" lengthAdjust="spacingAndGlyphs">:LES PIECES REPAREES PAR UN</text>
<use href="#wt" x="1940" y="1877"/><text class="n" x="1955" y="1883" textLength="41" lengthAdjust="spacingAndGlyphs">ETANT</text>
<text class="n" x="1730" y="1899" textLength="271" lengthAdjust="spacingAndGlyphs">DANGEREUSES AN POINT DE VUE SECURITE</text>
<text class="n" x="1730" y="1916" textLength="208" lengthAdjust="spacingAndGlyphs">NUTILISER QUE CELLS DECRITES</text>
<text class="n" x="1730" y="1932" textLength="242" lengthAdjust="spacingAndGlyphs">DANS LA NOMENCLATURE DES PIECES.</text>

<!-- accessory -->
<path class="w" d="M2056 1571H1905V1752H2289V1571H2145"/>
<text x="2103" y="1574" class="s">ACCESSORY</text>
<path class="w" d="M2011 1601H2066"/><path fill="#111" d="M2064 1593L2078 1601L2064 1609Z"/>
<text x="2045" y="1622" class="s">CD3805</text><text x="2040" y="1634" class="s">P201-2476-2</text>
<text x="2171" y="1629" class="s">TM101</text><text x="2169" y="1646" class="s">ETR0088-010161</text>
<rect x="2150" y="1650" width="40" height="66" class="w"/>
<text x="2040" y="1662" class="s">BT001</text><text x="2043" y="1674" class="s">GR6M</text><rect x="2027" y="1680" width="26" height="14" class="w"/>
<text x="2040" y="1710" class="s">BT002</text><text x="2043" y="1724" class="s">GR6M</text><rect x="2027" y="1730" width="26" height="14" class="w"/>

<!-- audio signal -->
<path class="w" d="M2403 1802V1816H2389V1821L2376 1809L2389 1797V1802Z"/>
<text class="n" x="2408" y="1816" style="font-size:20px" textLength="174" lengthAdjust="spacingAndGlyphs">AUDIO SIGNAL(REC)</text>

<!-- digital transistor cautions -->
<text class="n" x="2076" y="1863" textLength="196" lengthAdjust="spacingAndGlyphs">CAUTION: DIGITAL TRANSISTOR</text>
<text class="n" x="2386" y="1860" textLength="197" lengthAdjust="spacingAndGlyphs">CAUTION: DIGITAL TRANSISTOR</text>
<g transform="translate(-2 0)">
<rect x="2105" y="1895" width="31" height="27" class="w"/>
<path class="w" d="M2125 1886V1895M2125 1922V1932M2097 1908H2112M2112 1900V1916M2112 1905L2125 1896M2112 1911L2125 1921"/>
<path fill="#111" d="M2158 1904H2172V1897L2193 1908L2172 1919V1912H2158Z"/>
<path class="w" d="M2214 1908H2219l2-3 3 6 3-6 3 6 3-6 3 3H2245M2245 1898V1915M2245 1903L2259 1893V1887M2245 1911L2259 1921V1950M2245 1911V1916l-4 3 8 3-8 3 8 3-4 3V1937H2259"/>
<circle cx="2259" cy="1937" r="2.5" fill="#111"/>
</g>
<g transform="translate(-4 0)">
<rect x="2418" y="1891" width="29" height="27" class="w"/>
<path class="w" d="M2438 1882V1891M2438 1918V1927M2409 1905H2425M2425 1897V1913M2425 1902L2438 1892M2425 1908L2438 1917"/>
<path fill="#111" d="M2471 1901H2485V1894L2506 1905L2485 1916V1909H2471Z"/>
<path class="w" d="M2525 1905H2530l2-3 3 6 3-6 3 6 3-6 3 3H2556M2556 1895V1912M2556 1900L2571 1890V1882M2556 1908L2571 1918V1947M2556 1908V1913l-4 3 8 3-8 3 8 3-4 3V1934H2571"/>
<circle cx="2571" cy="1934" r="2.5" fill="#111"/>
</g>
<rect x="2699" y="1875" width="52" height="43" class="w"/>
<text x="2725" y="1893" class="s">PCBDH0</text><text x="2725" y="1909" class="s">CEF276</text>
</svg>
</body></html>
